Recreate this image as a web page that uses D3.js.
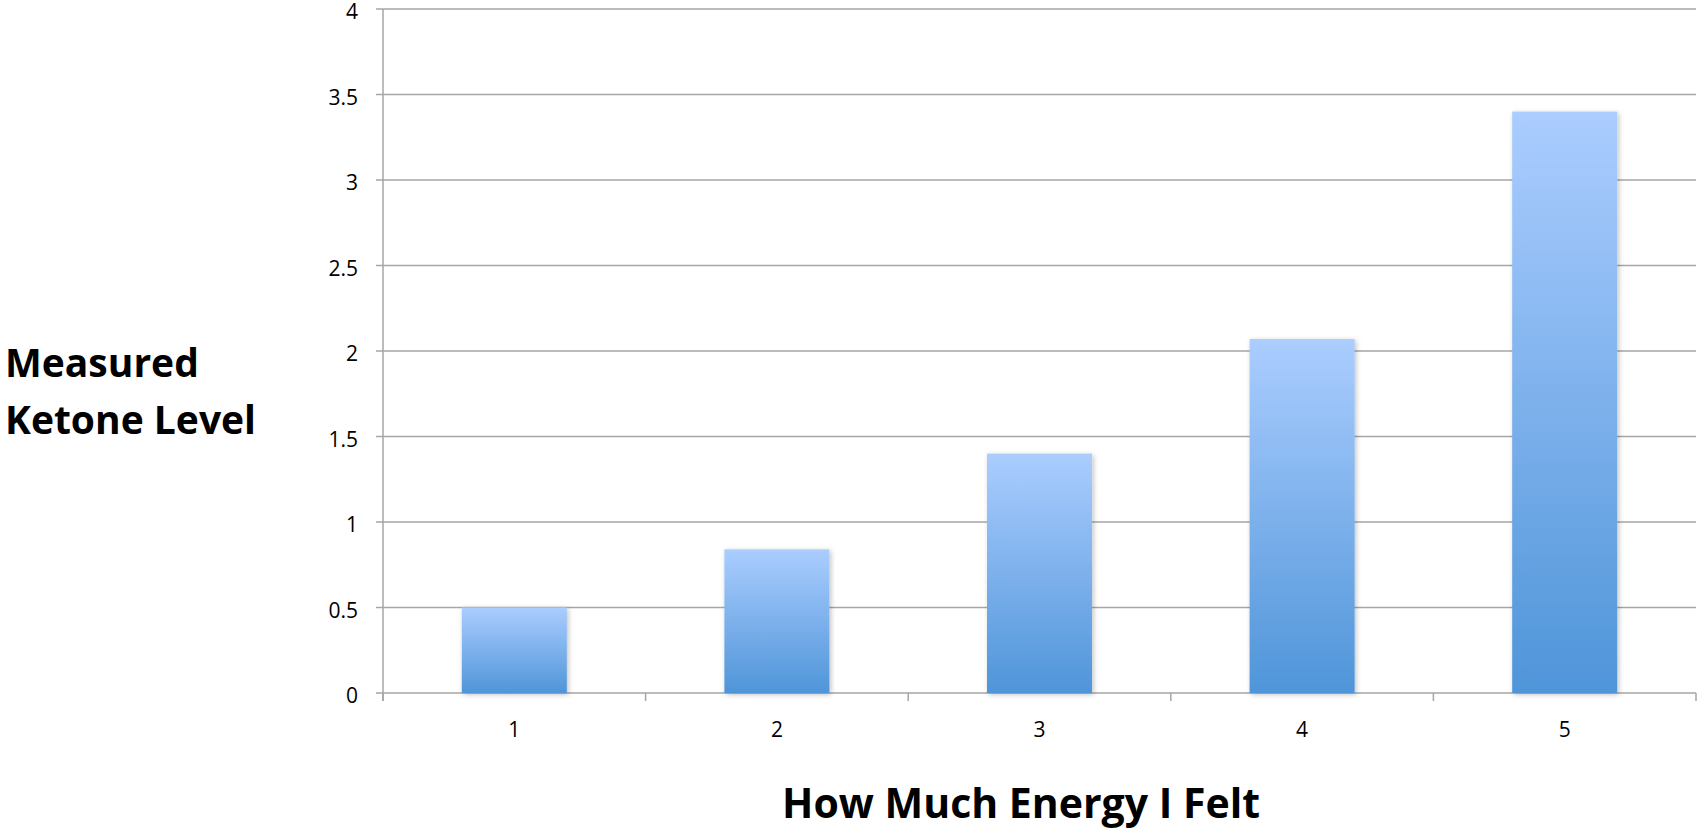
<!DOCTYPE html>
<html>
<head>
<meta charset="utf-8">
<script src="https://cdn.jsdelivr.net/npm/d3@7"></script>
<style>
	html, body { margin: 0; padding: 0; background: #fff; }
	svg { display: block; }
</style>
</head>
<body>
<svg id="chart"></svg>
<script>
	var w = 1697;
	var h = 830;

	// data
	var energy = ["1", "2", "3", "4", "5"];
	var ketone = [0.5, 0.84, 1.4, 2.07, 3.4];
	var y_ticks = [0, 0.5, 1, 1.5, 2, 2.5, 3, 3.5, 4];
	var y_title = ["Measured", "Ketone Level"];
	var x_title = "How Much Energy I Felt";

	var xrange = [383, 1696];
	var yrange = [693, 9];
	var grid_color = "#a6a6a6";
	var font = "'Open Sans', 'DejaVu Sans', sans-serif";

	var svg = d3.select("#chart")
		.attr("width", w)
		.attr("height", h);

	var xscale = d3.scaleBand()
		.domain(energy)
		.range(xrange)
		.paddingInner(0.6)
		.paddingOuter(0.3);

	var yscale = d3.scaleLinear()
		.domain([0, 4])
		.range(yrange);

	var defs = svg.append("defs");

	var grad = defs.append("linearGradient")
		.attr("id", "barfill")
		.attr("x1", 0).attr("y1", 0)
		.attr("x2", 0).attr("y2", 1);
	grad.append("stop").attr("offset", "0%").attr("stop-color", "#abcdff");
	grad.append("stop").attr("offset", "100%").attr("stop-color", "#4f95d9");

	var shadow = defs.append("filter")
		.attr("id", "shadow")
		.attr("x", "-20%").attr("y", "-20%")
		.attr("width", "140%").attr("height", "140%");
	shadow.append("feDropShadow")
		.attr("dx", 1.5).attr("dy", 1.5)
		.attr("stdDeviation", 2.5)
		.attr("flood-color", "#000")
		.attr("flood-opacity", 0.25);

	// horizontal grid (the 0 line is the x axis)
	svg.selectAll("line.y-grid")
		.data(y_ticks)
		.enter().append("line")
			.attr("class", "y-grid")
			.attr("x1", xrange[0] - 7)
			.attr("x2", xrange[1])
			.attr("y1", function(d){ return yscale(d); })
			.attr("y2", function(d){ return yscale(d); })
			.attr("stroke", grid_color)
			.attr("stroke-width", 1.5);

	// y axis line
	svg.append("line")
		.attr("x1", xrange[0]).attr("x2", xrange[0])
		.attr("y1", yscale(4)).attr("y2", yscale(0) + 8)
		.attr("stroke", grid_color)
		.attr("stroke-width", 1.5);

	// x ticks at category boundaries
	var bounds = energy.map(function(d){ return xscale(d) - xscale.step() * xscale.paddingInner() / 2; });
	bounds.push(xrange[1]);
	bounds[0] = xrange[0];
	svg.selectAll("line.x-tick")
		.data(bounds)
		.enter().append("line")
			.attr("class", "x-tick")
			.attr("x1", function(d){ return d; })
			.attr("x2", function(d){ return d; })
			.attr("y1", yscale(0))
			.attr("y2", yscale(0) + 8)
			.attr("stroke", grid_color)
			.attr("stroke-width", 1.5);

	// bars
	svg.selectAll("rect.bar")
		.data(ketone)
		.enter().append("rect")
			.attr("class", "bar")
			.attr("x", function(d, i){ return xscale(energy[i]); })
			.attr("width", xscale.bandwidth())
			.attr("y", function(d){ return yscale(d); })
			.attr("height", function(d){ return yscale(0) - yscale(d); })
			.attr("fill", "url(#barfill)")
			.attr("filter", "url(#shadow)");

	// y tick labels
	svg.selectAll("text.y-axis-tick")
		.data(y_ticks)
		.enter().append("text")
			.attr("class", "y-axis-tick")
			.attr("x", 358)
			.attr("y", function(d){ return yscale(d) + 10; })
			.attr("fill", "#000")
			.style("font-family", font)
			.style("font-size", "21px")
			.style("text-anchor", "end")
			.text(function(d){ return d; });

	// x tick labels
	svg.selectAll("text.x-axis-tick")
		.data(energy)
		.enter().append("text")
			.attr("class", "x-axis-tick")
			.attr("x", function(d){ return xscale(d) + xscale.bandwidth() / 2; })
			.attr("y", 737)
			.attr("fill", "#000")
			.style("font-family", font)
			.style("font-size", "21px")
			.style("text-anchor", "middle")
			.text(function(d){ return d; });

	// axis titles
	svg.append("text")
		.attr("x", 1021)
		.attr("y", 818)
		.attr("fill", "#000")
		.style("font-family", font)
		.style("font-weight", "bold")
		.style("font-size", "41px")
		.style("text-anchor", "middle")
		.text(x_title);

	svg.selectAll("text.y-title")
		.data(y_title)
		.enter().append("text")
			.attr("class", "y-title")
			.attr("x", 5)
			.attr("y", function(d, i){ return 377 + i * 57; })
			.attr("fill", "#000")
			.style("font-family", font)
			.style("font-weight", "bold")
			.style("font-size", "39px")
			.text(function(d){ return d; });
</script>
</body>
</html>
